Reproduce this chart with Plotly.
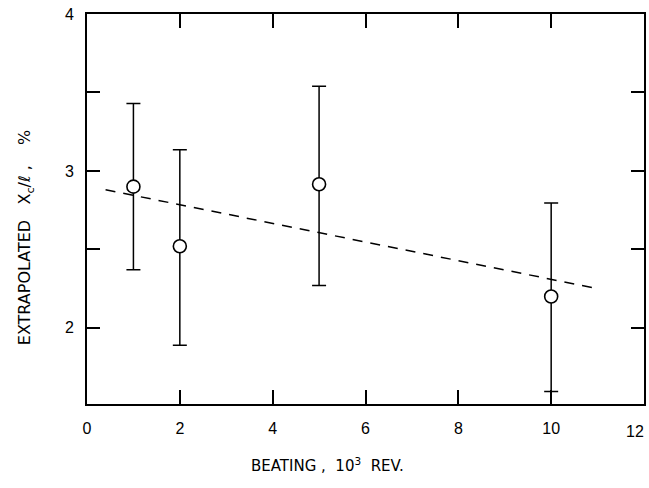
import plotly.graph_objects as go

# Beating (10^3 revolutions) and extrapolated Xc/l (%) with error limits
beating = [1, 2, 5, 10]
xc_mean = [2.90, 2.52, 2.915, 2.20]
xc_low = [2.37, 1.89, 2.27, 1.595]
xc_high = [3.43, 3.135, 3.54, 2.795]

# Dashed trend line endpoints
trend_x = [0.4, 11.0]
trend_y = [2.88, 2.25]

x_ticks = [0, 2, 4, 6, 8, 10, 12]
x_ticktext = ["0", "2", "4", "6", "8", "10", ""]
y_ticks = [2, 2.5, 3, 3.5, 4]
y_ticktext = ["2", "", "3", "", "4"]

err_plus = [h - m for h, m in zip(xc_high, xc_mean)]
err_minus = [m - l for m, l in zip(xc_mean, xc_low)]

fig = go.Figure()

fig.add_trace(go.Scatter(
    x=trend_x, y=trend_y, mode="lines",
    line=dict(color="black", width=1.5, dash="10px,8px"),
    showlegend=False, hoverinfo="skip",
))

fig.add_trace(go.Scatter(
    x=beating, y=xc_mean, mode="markers",
    marker=dict(symbol="circle", size=13, color="white",
                line=dict(color="black", width=1.6)),
    error_y=dict(type="data", symmetric=False, array=err_plus,
                 arrayminus=err_minus, color="black", thickness=1.5, width=7),
    showlegend=False,
))

tick_font = "Liberation Sans, Arial, sans-serif"
title_font = "DejaVu Sans, Verdana, sans-serif"

# Page-pixel layout of the plotting area
L, R, T, B = 87, 3, 14, 84
W, H = 649, 488
plot_w = W - L - R
plot_h = H - T - B


def px_x(px):
    return (px - L) / plot_w


def px_y(py):
    return 1 - (py - T) / plot_h


fig.update_layout(
    width=W, height=H,
    margin=dict(l=L, r=R, t=T, b=B),
    paper_bgcolor="white", plot_bgcolor="white",
    font=dict(family=tick_font, color="black", size=16),
    xaxis=dict(
        range=[0, 12], tickvals=x_ticks, ticktext=x_ticktext,
        ticks="inside", ticklen=14, tickwidth=1.5, tickcolor="black",
        showline=True, linewidth=2, linecolor="black", mirror="ticks",
        showgrid=False, zeroline=False, ticklabelstandoff=9,
        tickfont=dict(size=16),
    ),
    yaxis=dict(
        range=[1.515, 4.0], tickvals=y_ticks, ticktext=y_ticktext,
        ticks="inside", ticklen=13, tickwidth=1.5, tickcolor="black",
        showline=True, linewidth=2, linecolor="black", mirror="ticks",
        showgrid=False, zeroline=False, ticklabelstandoff=8,
        tickfont=dict(size=16),
    ),
    annotations=[
        # last x tick label, pulled inward so it stays on the page
        dict(text="12", x=12, y=0, xref="x", yref="paper",
             xanchor="center", yanchor="top", xshift=-9, yshift=-17,
             showarrow=False, font=dict(size=16, family=tick_font)),
        dict(text="EXTRAPOLATED   X<sub>c</sub>/ℓ ,    %",
             x=px_x(25), y=px_y(237), xref="paper", yref="paper",
             showarrow=False, textangle=-90,
             font=dict(size=16, family=title_font),
             xanchor="center", yanchor="middle"),
        dict(text="BEATING ,  10<sup>3</sup>  REV.",
             x=px_x(328), y=px_y(465), xref="paper", yref="paper",
             showarrow=False, font=dict(size=15, family=title_font),
             xanchor="center", yanchor="middle"),
    ],
)

fig.write_html("out.html")
